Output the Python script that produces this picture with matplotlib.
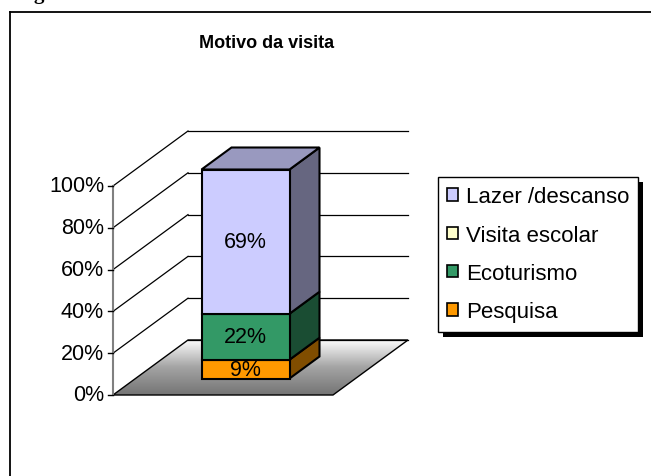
import matplotlib
matplotlib.use('Agg')
import matplotlib.pyplot as plt
import numpy as np
from matplotlib.patches import Polygon, Patch, Rectangle
from matplotlib.lines import Line2D
from matplotlib.colors import LinearSegmentedColormap, to_rgb
from matplotlib.transforms import IdentityTransform

plt.rcParams['font.family'] = ['Liberation Sans', 'DejaVu Sans']

# Data (stacked from bottom to top)
categories = ['Pesquisa', 'Ecoturismo', 'Visita escolar', 'Lazer /descanso']
values = [9, 22, 0, 69]
colors = ['#FF9900', '#339966', '#FFFFCC', '#CCCCFF']
yticks = [0, 20, 40, 60, 80, 100]

# Layout (pixels of a 651x477 figure)
W, H = 651, 477
PX_X = 220.0      # pixels per category unit
PX_Y = 2.09       # pixels per percent
ORX, ORY = 113, 396   # front-left floor corner
DX = 75 / PX_X    # depth offset in x units
DY = 55 / PX_Y    # depth offset in percent units
BAR_W = 0.4
Z0, Z1 = 0.3, 0.7

def proj(x, y, z):
    return (x + z * DX, y + z * DY)

def shade(c, f):
    r, g, b = to_rgb(c)
    return (r * f, g * f, b * f)

fig = plt.figure(figsize=(W / 100, H / 100), dpi=100)
ax = fig.add_axes([0, 0, 1, 1])
ax.axis('off')
xlim = (-0.5 - ORX / PX_X, -0.5 + (W - ORX) / PX_X)
ylim = (-(H - ORY) / PX_Y, ORY / PX_Y)

# floor with gradient
floor_pts = [proj(-0.5, 0, 0), proj(0.5, 0, 0), proj(0.5, 0, 1), proj(-0.5, 0, 1)]
floor = Polygon(floor_pts, closed=True, facecolor='none', edgecolor='black', lw=1.0, zorder=2)
ax.add_patch(floor)
cmap = LinearSegmentedColormap.from_list('floor', ['#747474', '#a4a4a4', '#ffffff'])
grad = np.linspace(0, 1, 256).reshape(-1, 1)
im = ax.imshow(grad, cmap=cmap, extent=(-0.5, 0.5 + DX, 0, DY), origin='lower',
               aspect='auto', zorder=1, interpolation='bilinear')
im.set_clip_path(floor)

# back wall grid lines and left wall lines
for v in yticks:
    xa, ya = proj(-0.5, v, 1)
    xb, yb = proj(0.5, v, 1)
    ax.plot([xa, xb], [ya, yb], color='black', lw=0.9, zorder=1.5)
    if v > 0:
        xf, yf = proj(-0.5, v, 0)
        ax.plot([xf, xa], [yf, ya], color='black', lw=0.9, zorder=1.5)

# front value axis
ax.plot([-0.5, -0.5], [0, 100], color='#808080', lw=1.5, zorder=3)
for v in yticks:
    ax.plot([-0.5 - 5 / PX_X, -0.5], [v, v], color='black', lw=1.0, zorder=3)
    ax.text(-0.5 - 9 / PX_X, v, f'{v}%', ha='right', va='center', fontsize=15.5)

# stacked 3d bar
bottom = 0
nonzero = [i for i, v in enumerate(values) if v > 0]
top_idx = nonzero[-1]
x0, x1 = -BAR_W / 2, BAR_W / 2
for i, (val, col) in enumerate(zip(values, colors)):
    if val <= 0:
        continue
    y0, y1 = bottom, bottom + val
    side = [proj(x1, y0, Z0), proj(x1, y0, Z1), proj(x1, y1, Z1), proj(x1, y1, Z0)]
    ax.add_patch(Polygon(side, closed=True, facecolor=shade(col, 0.5),
                         edgecolor='black', lw=1.5, zorder=4 + i * 0.1))
    front = [proj(x0, y0, Z0), proj(x1, y0, Z0), proj(x1, y1, Z0), proj(x0, y1, Z0)]
    ax.add_patch(Polygon(front, closed=True, facecolor=col,
                         edgecolor='black', lw=1.5, zorder=4.05 + i * 0.1))
    if i == top_idx:
        top = [proj(x0, y1, Z0), proj(x1, y1, Z0), proj(x1, y1, Z1), proj(x0, y1, Z1)]
        ax.add_patch(Polygon(top, closed=True, facecolor=shade(col, 0.75),
                             edgecolor='black', lw=1.5, zorder=4.05 + i * 0.1))
    cx, cy = proj(0, (y0 + y1) / 2, Z0)
    ax.text(cx, cy, f'{val}%', ha='center', va='center', fontsize=15.5, zorder=6)
    bottom = y1

ax.set_xlim(*xlim)
ax.set_ylim(*ylim)

# legend (reverse order)
handles = [Patch(facecolor=c, edgecolor='black', lw=1.2) for c in colors][::-1]
leg = ax.legend(handles, categories[::-1], loc='upper left',
                bbox_to_anchor=(438 / W, 1 - 178 / H), bbox_transform=fig.transFigure,
                fontsize=16, frameon=True, fancybox=False, edgecolor='black',
                framealpha=1, handlelength=0.48, handleheight=0.48, handletextpad=0.35,
                labelspacing=0.78, borderpad=0.42, borderaxespad=0)
leg.get_frame().set_linewidth(1.0)
leg.set_zorder(10)

fig.canvas.draw()
bb = leg.get_window_extent()
shadow = Rectangle((bb.x0 + 5, bb.y0 - 5), bb.width, bb.height, transform=IdentityTransform(),
                   facecolor='black', edgecolor='none', zorder=9.9, clip_on=False)
ax.add_artist(shadow)

# title
fig.text(267 / W, 1 - 43 / H, 'Motivo da visita', ha='center', va='center',
         fontsize=13, fontweight='bold')

# chart frame (left and top borders)
fig.add_artist(Line2D([9.5 / W, 9.5 / W], [0, 1 - 12.5 / H], color='black', lw=1.3))
fig.add_artist(Line2D([9.5 / W, 1], [1 - 12.5 / H, 1 - 12.5 / H], color='black', lw=1.3))

# cut-off caption above the frame
fig.text(33 / W, 1 + 1 / H, 'g', ha='left', va='baseline', fontsize=15,
         fontweight='bold', family='Liberation Serif')

fig.savefig('out.png', dpi=100)
